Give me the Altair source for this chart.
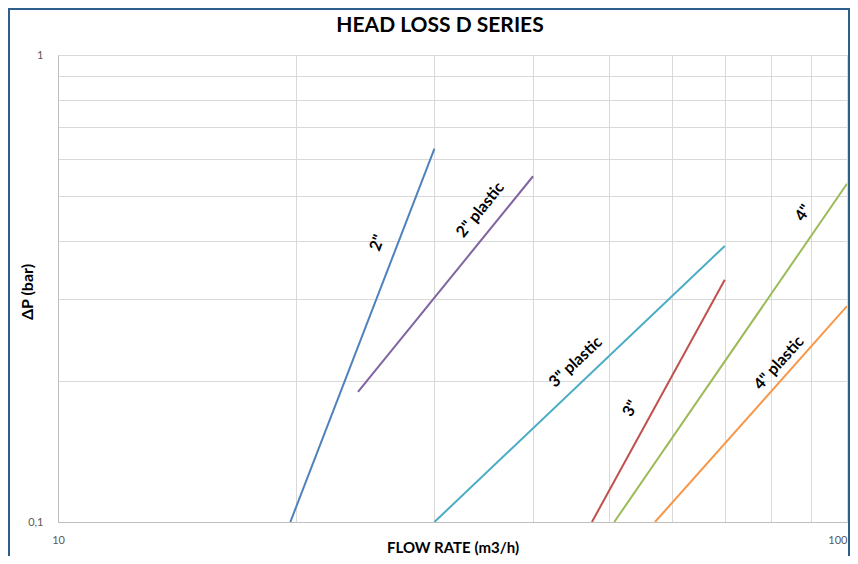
import altair as alt
import pandas as pd

# Series (pipe sizes) and their straight-line segments on log-log axes
series = ['2"', '2" plastic', '3" plastic', '3"', '4"', '4" plastic']
colors = ['#4f81bd', '#8064a2', '#4bacc6', '#c0504d', '#9bbb59', '#f79646']
x_start = [19.7, 24.0, 30.0, 47.5, 50.7, 57.1]
y_start = [0.1, 0.19, 0.1, 0.1, 0.1, 0.1]
x_end = [30.0, 40.0, 70.0, 70.0, 100.0, 100.0]
y_end = [0.63, 0.55, 0.39, 0.33, 0.53, 0.29]

# Label placement (data coords) and rotation
label_x = [25.4, 34.3, 45.3, 53.2, 88.0, 82.0]
label_y = [0.396, 0.466, 0.22, 0.175, 0.459, 0.219]
label_angle = [291, 309, 317, 299, 304, 312]

x_grid = [10, 20, 30, 40, 50, 60, 70, 80, 90, 100]
y_grid = [0.1, 0.2, 0.3, 0.4, 0.5, 0.6, 0.7, 0.8, 0.9, 1.0]

chart_title = "HEAD LOSS D SERIES"

rows = []
for s, xs, ys, xe, ye in zip(series, x_start, y_start, x_end, y_end):
    rows.append({"series": s, "flow": xs, "dp": ys, "order": 0})
    rows.append({"series": s, "flow": xe, "dp": ye, "order": 1})
lines_df = pd.DataFrame(rows)

labels_df = pd.DataFrame({"series": series, "flow": label_x, "dp": label_y, "angle": label_angle})

FONT = "Lato"
W, H = 789, 467

x_scale = alt.Scale(type="log", domain=[10, 100], nice=False)
y_scale = alt.Scale(type="log", domain=[0.1, 1], nice=False)

x_axis = alt.Axis(
    values=x_grid,
    labelExpr="datum.value == 10 || datum.value == 100 ? datum.label : ''",
    labelAlign={"expr": "datum.value == 100 ? 'right' : 'center'"},
    title="FLOW RATE (m3/h)",
    titleFont=FONT, titleFontSize=15, titleFontWeight="bold", titleColor="#000000",
    titleY=25, titleBaseline="middle",
    labelFont=FONT, labelFontSize=11, labelColor="#595959", labelPadding=12,
    labelOverlap=False, labelFlush=False, labelBound=False,
)
y_axis = alt.Axis(
    values=y_grid,
    labelExpr="datum.value == 1 ? '1' : (datum.value == 0.1 ? '0,1' : '')",
    title="ΔP (bar)",
    titleFont=FONT, titleFontSize=16, titleFontWeight="bold", titleColor="#000000",
    titleX=-31, titleY=H / 2 + 3, titleBaseline="middle",
    labelFont=FONT, labelFontSize=11, labelColor="#595959", labelPadding=15,
    labelOverlap=False,
)

lines = alt.Chart(lines_df).mark_line(strokeWidth=2, clip=True).encode(
    x=alt.X("flow:Q", scale=x_scale, axis=x_axis),
    y=alt.Y("dp:Q", scale=y_scale, axis=y_axis),
    color=alt.Color("series:N", scale=alt.Scale(domain=series, range=colors), legend=None),
    order="order:Q",
)

labels = alt.Chart(labels_df).mark_text(
    font=FONT, fontSize=16, fontWeight="bold", color="#000000", align="center", baseline="middle"
).encode(
    x=alt.X("flow:Q", scale=x_scale),
    y=alt.Y("dp:Q", scale=y_scale),
    text="series:N",
    angle=alt.Angle("angle:Q", scale=None),
)

title_mark = alt.Chart(alt.Data(values=[{"t": chart_title}])).mark_text(
    font=FONT, fontSize=21, fontWeight="bold", color="#000000", align="center", baseline="middle"
).encode(
    x=alt.value(382), y=alt.value(-29), text="t:N"
)

border = alt.Chart(alt.Data(values=[{}])).mark_rect(
    filled=False, stroke="#2e5f8a", strokeWidth=2
).encode(
    x=alt.value(-49), x2=alt.value(791), y=alt.value(-46), y2=alt.value(530)
)

chart = alt.layer(lines, labels, title_mark, border).properties(
    width=W,
    height=H,
    autosize=alt.AutoSizeParams(type="none"),
    padding={"left": 50, "top": 47, "right": 3, "bottom": 34},
).configure_view(stroke=None).configure_axis(
    gridColor="#d9d9d9", gridWidth=1, domainColor="#bfbfbf", ticks=False,
)

chart.save("out.html", embed_options={"renderer": "svg", "actions": False})
